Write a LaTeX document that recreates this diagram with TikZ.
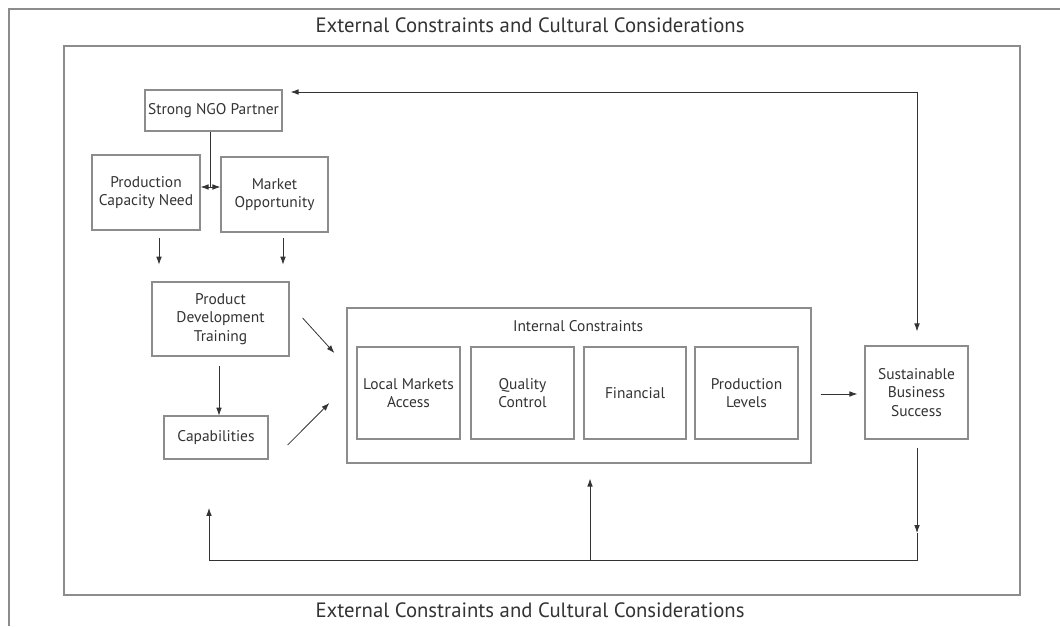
\documentclass[tikz,border=0pt]{standalone}
\usepackage{fontspec}
\setmainfont{PT Sans}
\usetikzlibrary{arrows.meta, calc}
\definecolor{framegray}{HTML}{8C8C8C}
\definecolor{linegray}{HTML}{333333}
\tikzset{
    frame/.style={draw=framegray, line width=0.7pt},
    box/.style 2 args={frame, inner sep=0pt, align=center, font=\fontsize{8.8}{10.4}\selectfont, text=linegray, minimum width=#1*0.02cm, minimum height=#2*0.02cm},
    title/.style={inner sep=0pt, font=\fontsize{11.8}{13}\selectfont, text=linegray},
    arr/.style={draw=linegray, line width=0.45pt, -{Latex[length=4.5pt, width=3.2pt]}},
    link/.style={draw=linegray, line width=0.45pt},
    both/.style={draw=linegray, line width=0.45pt, {Latex[length=4.5pt, width=3.2pt]}-{Latex[length=4.5pt, width=3.2pt]}},
}

\begin{document}
\begin{tikzpicture}[x=0.02cm, y=-0.02cm]
    \useasboundingbox (0,0) rectangle (1060,626);
    % frames
    \draw[frame] (1060,9) -- (9,9) -- (9,626);
    \draw[frame] (64,46) rectangle (1020,595);
    \node[title] (ttop) at (530,25) {External Constraints and Cultural Considerations};
    \node[title] (tbot) at (530,610) {External Constraints and Cultural Considerations};

    % left column
    \node[box={137}{41}] (ngo) at (213.5,110.5) {Strong NGO Partner};
    \node[box={108}{75}] (pcn) at (146,192.5) {Production\\Capacity Need};
    \node[box={107}{75}] (mo) at (274.5,194.5) {Market\\Opportunity};
    \node[box={137}{74}] (pdt) at (220.5,319) {Product\\Development\\Training};
    \node[box={104}{43}] (cap) at (216,437.5) {Capabilities};

    % internal constraints
    \node[box={464}{155}] (ic) at (579,385.5) {};
    \node[inner sep=0pt, font=\fontsize{8.8}{10.4}\selectfont, text=linegray] (iclabel) at (578,326) {Internal Constraints};
    \node[box={103}{92}] (lma) at (408.5,393) {Local Markets\\Access};
    \node[box={103}{92}] (qc) at (522.5,393) {Quality\\Control};
    \node[box={102}{92}] (fin) at (635,393) {Financial};
    \node[box={103}{92}] (pl) at (746.5,393) {Production\\Levels};

    \node[box={103}{93}] (sbs) at (916.5,392.5) {Sustainable\\Business\\Success};

    % connectors
    \coordinate (jn) at (210,187);
    \coordinate (tr) at (917,92);
    \coordinate (br) at (917,560);
    \coordinate (bm) at (590,560);
    \coordinate (bl) at (209,560);

    \draw[link] (ngo.south -| jn) -- (jn);
    \draw[both] (pcn.east |- jn) -- (mo.west |- jn);
    \draw[arr] ($(pcn.south)+(13,7)$) -- ($(pcn.south)+(13,34)$);
    \draw[arr] ($(mo.south)+(8.5,5)$) -- ($(mo.south)+(8.5,32)$);
    \draw[arr] ($(pdt.south)+(-1.5,9)$) -- ($(pdt.south)+(-1.5,59)$);
    \draw[arr] ($(pdt.east)+(13,-1)$) -- ($(ic.west)+(-12,-32.5)$);
    \draw[arr] ($(cap.east)+(19,7.5)$) -- ($(ic.west)+(-17,17.5)$);
    \draw[arr] ($(ic.east)+(9,8.5)$) -- ($(sbs.west)+(-7,1.5)$);
    \draw[both, shorten <=0.16cm, shorten >=0.28cm] (ngo.east |- tr) -- (tr) -- (sbs.north -| tr);
    \draw[arr, shorten <=0.16cm] (sbs.south -| br) -- ($(br)+(0,-27)$);
    \draw[link] ($(br)+(0,-27)$) -- (br) -- (bl);
    \draw[arr] (bl) -- ($(bl)+(0,-52)$);
    \draw[arr, shorten >=0.3cm] (bm) -- (bm |- ic.south);
\end{tikzpicture}
\end{document}
